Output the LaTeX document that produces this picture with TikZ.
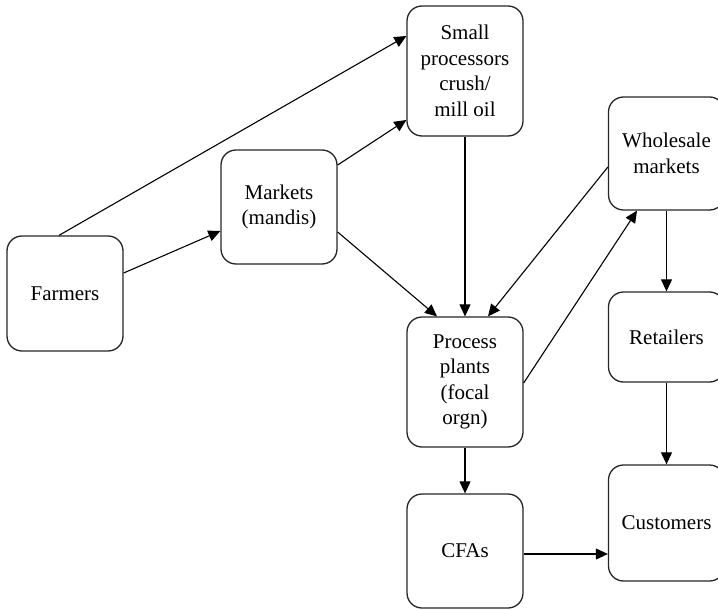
\documentclass[tikz,border=0pt]{standalone}
\usepackage{fontspec}
\setmainfont{Liberation Serif}
\usetikzlibrary{arrows.meta,calc}
\begin{document}
\begin{tikzpicture}[x=1pt,y=-1pt,
  box/.style={draw=black!85,line width=1.3pt,rounded corners=15pt,align=center,
    inner sep=0pt,font=\fontsize{21}{25.5}\selectfont},
  conn/.style={line width=1.1pt,draw=black,-{Triangle[length=12pt,width=11pt]}}]
\useasboundingbox (0,0) rectangle (718,610);
\node[box,minimum width=116pt,minimum height=115pt] (far) at (65,293.5) {Farmers};
\node[box,minimum width=116pt,minimum height=114pt] (mk) at (279,207) {Markets\\(mandis)};
\node[box,minimum width=116pt,minimum height=130pt] (sp) at (465,71) {Small\\processors\\crush/\\mill oil};
\node[box,minimum width=116pt,minimum height=113pt] (wh) at (666.5,153.5) {Wholesale\\markets};
\node[box,minimum width=116pt,minimum height=130pt] (pp) at (465,382) {Process\\plants\\(focal\\orgn)};
\node[box,minimum width=116pt,minimum height=90pt] (rt) at (666.5,337) {Retailers};
\node[box,minimum width=116pt,minimum height=114pt] (cf) at (465,551) {CFAs};
\node[box,minimum width=116pt,minimum height=116pt] (cu) at (666.5,523) {Customers};

\draw[conn] ([xshift=-6pt]far.north) -- ([yshift=35pt]sp.west);
\draw[conn] ([yshift=20.5pt]far.east) -- ([yshift=-24pt]mk.west);
\draw[conn] ([yshift=42pt]mk.east) -- ([yshift=-49pt]sp.west);
\draw[conn] ([yshift=-25pt]mk.east) -- ([xshift=-28pt]pp.north);
\draw[conn] (sp.south) -- (pp.north);
\draw[conn] ([yshift=-13.5pt]wh.west) -- ([xshift=23pt]pp.north);
\draw[conn] ([yshift=-1pt]pp.east) -- ([xshift=-29.5pt]wh.south);
\draw[conn] (wh.south) -- (rt.north);
\draw[conn] (rt.south) -- (cu.north);
\draw[conn] (pp.south) -- (cf.north);
\draw[conn] ([yshift=-3pt]cf.east) -- ([yshift=-3pt]cf.east -| cu.west);
\end{tikzpicture}
\end{document}
